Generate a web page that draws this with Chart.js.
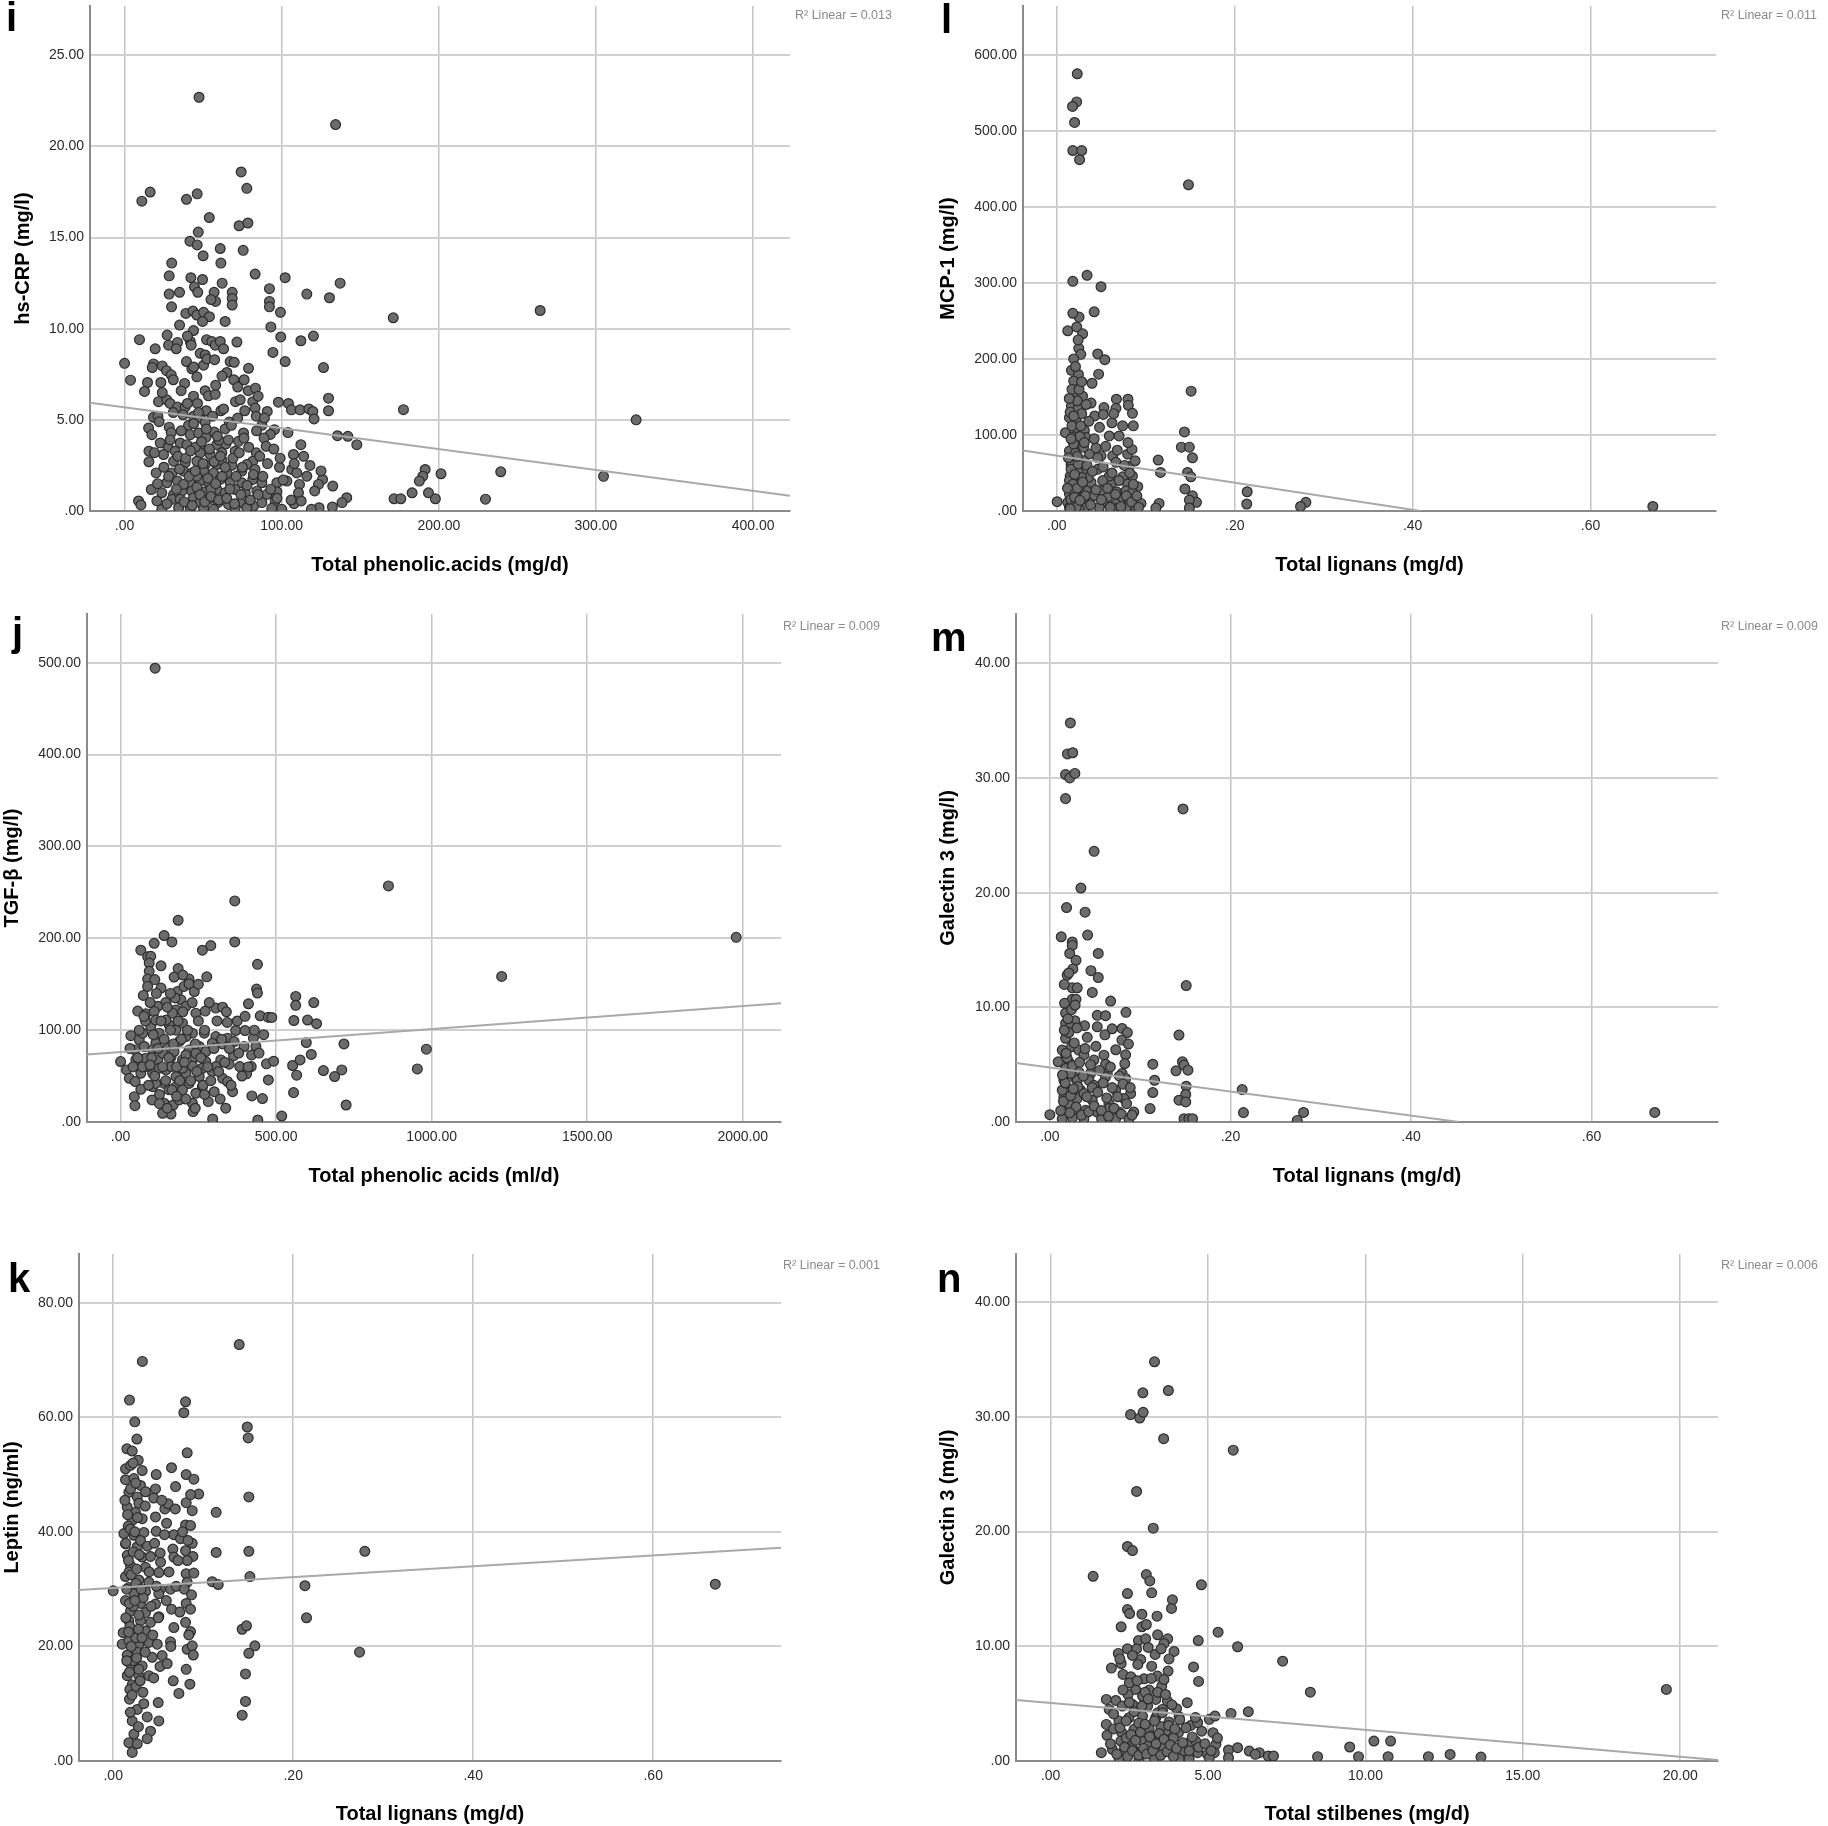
<!DOCTYPE html>
<html>
<head>
<meta charset="utf-8">
<script src="https://cdn.jsdelivr.net/npm/chart.js@4.4.1/dist/chart.umd.min.js"></script>
<style>
  body { margin: 0; background: #fff; }
  #page { position: relative; width: 1828px; height: 1826px; overflow: hidden; background: #fff; }
  #page canvas { position: absolute; }
  .tag { position: absolute; font: bold 40px "Liberation Sans", Arial, sans-serif; line-height: 40px; color: #000; }
  .r2 { position: absolute; font: 12.5px "Liberation Sans", Arial, sans-serif; line-height: 14px; color: #8a8a8a; white-space: nowrap; }
</style>
</head>
<body>
<div id="page">
  <canvas id="ci" width="914" height="600" style="left:0;top:0"></canvas>
  <canvas id="cl" width="914" height="600" style="left:914px;top:0"></canvas>
  <canvas id="cj" width="914" height="620" style="left:0;top:600px"></canvas>
  <canvas id="cm" width="914" height="620" style="left:914px;top:600px"></canvas>
  <canvas id="ck" width="914" height="606" style="left:0;top:1220px"></canvas>
  <canvas id="cn" width="914" height="606" style="left:914px;top:1220px"></canvas>

  <div class="tag" style="left:6px;top:-3px">i</div>
  <div class="tag" style="left:941px;top:-1px">l</div>
  <div class="tag" style="left:12px;top:612px">j</div>
  <div class="tag" style="left:931px;top:617px">m</div>
  <div class="tag" style="left:8px;top:1258px">k</div>
  <div class="tag" style="left:937px;top:1258px">n</div>

  <div class="r2" style="left:795px;top:8px">R² Linear = 0.013</div>
  <div class="r2" style="left:1721px;top:8px">R² Linear = 0.011</div>
  <div class="r2" style="left:783px;top:619px">R² Linear = 0.009</div>
  <div class="r2" style="left:1721px;top:619px">R² Linear = 0.009</div>
  <div class="r2" style="left:783px;top:1258px">R² Linear = 0.001</div>
  <div class="r2" style="left:1721px;top:1258px">R² Linear = 0.006</div>
</div>
<script>
// [total phenolic acids mg/d, hs-CRP mg/l]
const crpPoints = [
  [47.4,22.7],[134.3,21.2],[264.5,11.0],[325.6,5.0],[304.8,1.9],[239.4,2.15],[229.7,0.65],
  [74.2,18.6],[77.8,17.7],[16.3,17.5],[11,17.0],[39.4,17.1],[46.2,17.4],[53.9,16.1],[72.9,15.65],[78.5,15.8],
  [46.9,15.3],[41.6,14.8],[46.2,14.6],[60.9,14.4],[75.5,14.3],[61.3,13.6],[83.1,13.0],[102.2,12.8],[28.4,12.9],
  [42.2,12.8],[49.6,12.7],[62.1,12.5],[92.2,12.2],[116,11.9],[137.2,12.5],[130.4,11.7],[28.4,11.9],[35,12.0],
  [44.5,12.3],[46.6,12.0],[57,12.0],[57.9,11.5],[68.5,12.0],[68.5,11.66],[68.5,11.3],[92.2,11.5],[92.2,11.2],
  [29.9,11.2],[39,10.84],[43.5,10.97],[46,10.75],[50.3,10.9],[54,10.66],[49.6,10.4],[99.2,10.9],[171,10.6],
  [93.1,10.1],[43.9,9.9],[27.1,9.65],[9.5,9.4],[28,9.1],[33.7,9.25],[41.8,9.3],[42.4,9.1],[52.2,9.4],[55.5,9.3],
  [57.7,9.1],[60.9,9.3],[63,8.9],[71.5,9.27],[99.4,9.55],[112.2,9.34],[120.2,9.6],[19.5,8.9],[32.9,8.9],[94.4,8.7],
  [48.1,8.65],[51.3,8.56],[0,8.1],[18.4,8.07],[24,7.96],[39.4,8.2],[42.8,7.8],[50.3,8.0],[52.4,8.34],[57.3,8.3],
  [67.2,8.2],[69.8,8.16],[78.9,7.83],[102.2,8.2],[126.6,7.87],[17.6,7.87],[26.7,7.7],[29.7,7.47],[3.8,7.18],
  [14.6,7.05],[23.1,7.05],[38.2,7.0],[46,7.36],[65.1,7.6],[69.5,7.2],[76.1,7.2],[12.7,6.56],[51.3,6.6],[53.4,6.32],
  [57.7,6.4],[78.7,6.6],[83.3,6.74],[43.9,6.3],[21.6,6.0],[26.9,6.1],[29,5.9],[33.7,5.7],[38.6,5.7],[46.4,5.9],
  [61.3,5.5],[70.6,6.0],[73.6,6.1],[76.5,5.5],[81.6,6.0],[83.1,5.65],[90.8,5.46],[97.9,5.97],[104.3,5.9],
  [106.2,5.55],[111.7,5.55],[117.3,5.6],[119.8,5.46],[120.6,5.05],[129.8,6.19],[129.8,5.5],[177.5,5.56],
  [18.4,5.14],[21.2,5.2],[37.3,5.28],[43.9,5.2],[48.1,5.1],[51.3,4.88],[66.6,4.88],[83.8,5.2],[87.4,4.7],
  [95.4,4.46],[15.3,4.55],[17.4,4.19],[28.4,4.6],[29.7,4.3],[40.7,4.7],[41.8,4.19],[47.1,4.28],[51.9,4.04],
  [57.1,4.33],[64,4.5],[75.7,4.28],[92.7,4.2],[88.8,4.0],[135.5,4.13],[142.1,4.1],[147.8,3.64],[22.7,3.73],
  [35.4,3.73],[39.7,3.64],[48.1,3.64],[58.7,3.64],[64.5,3.68],[72.5,3.82],[27.8,3.5],[90.1,3.55],[112.2,3.64],
  [15.5,3.28],[24.8,3.1],[32.2,3.28],[48.1,3.19],[54.5,3.1],[61.9,3.19],[70.4,3.28],[83.8,3.19],[107.5,3.1],
  [15.5,2.7],[31.2,2.73],[38.6,2.64],[46,2.73],[51.3,2.55],[58.7,2.55],[68.3,2.51],[81.6,2.73],[77.8,2.55],
  [20.1,2.09],[30.1,2.09],[37.5,2.19],[42.9,2.09],[50.3,2.19],[56.6,2.09],[65.1,2.09],[74.6,2.19],[83,2.28],
  [98.6,2.4],[106.4,2.28],[109.6,2.09],[116,1.91],[191.3,2.28],[201.4,2.04],[189.8,1.91],[187.6,1.64],
  [26.9,1.55],[33.7,1.64],[41.8,1.55],[48.1,1.64],[53.6,1.55],[60.9,1.73],[67.2,1.55],[74.6,1.55],[81.6,1.73],
  [87.4,1.55],[96.9,1.55],[103.3,1.64],[111.3,1.46],[126,1.73],[123.4,1.46],[132.5,1.37],[17,1.18],[23.7,1.0],
  [31.2,0.91],[36.5,1.09],[42.8,1.09],[43.9,0.73],[51.3,1.06],[58.7,1.18],[64,1.0],[70.4,1.18],[76.8,1.0],
  [84.2,1.09],[90.5,0.91],[96.9,1.06],[110.7,1.0],[183,1.0],[193.4,1.0],[197.8,0.67],[171.5,0.67],[175.8,0.67],
  [8.9,0.55],[10.4,0.33],[20.6,0.55],[30.1,0.64],[35.4,0.64],[48.1,0.46],[53.4,0.64],[59.4,0.46],[66.2,0.36],
  [73.6,0.46],[82.1,0.27],[87.4,0.46],[95.8,0.55],[107.9,0.4],[112.4,0.55],[141.4,0.73],[138.4,0.46],
  [123.8,0.18],[132.3,0.22],[118.9,0.09],[23.7,0.09],[34.4,0.18],[41.8,0.15],[50.3,0.15],[56.6,0.09],
  [70.4,0.18],[77.8,0.18],[93.7,0.15],[100.1,0.09],[37.5,1.46],[46,1.91],[55,1.2],[62,2.8],[45,3.5],[35,2.3],
  [28,1.9],[60,3.9],[52,5.5],
  [22,4.9],[25,2.4],[27,0.4],[29,3.9],[31,5.4],[33,1.2],[34,3.0],[36,4.4],[38,0.5],[39,2.9],[40,5.9],[41,1.9],
  [42,3.3],[43,0.3],[44,4.8],[45,2.2],[46,1.3],[47,5.4],[48,0.9],[49,3.8],[50,2.6],[51,0.5],[52,4.5],[53,1.8],
  [54,3.4],[55,0.8],[56,5.2],[57,2.7],[58,1.5],[59,4.1],[60,0.6],[61,3.0],[62,1.9],[63,5.6],[64,2.4],[65,0.7],
  [66,3.9],[67,1.2],[68,4.7],[69,2.9],[70,0.4],[71,1.9],[72,5.1],[73,3.2],[74,0.9],[75,2.4],[76,4.0],[78,1.4],
  [79,3.5],[80,0.6],[82,2.0],[84,4.4],[85,0.9],[86,3.0],[88,1.9],[89,5.1],[91,2.6],[93,1.2],[95,3.4],[97,0.7],
  [99,2.9],[101,1.7],[104,4.3],[106,0.6],[108,2.6],[114,3.0],[118,2.5],[121,1.1],[125,2.2],[19,3.2],[21,1.5],
  [24,6.5],[31,7.2],[36,6.6],[44,7.9],[58,6.9],[62,7.4],[72,6.8],[85,6.3],[40,9.6],[64,10.4],[35,10.2],
  [55,11.6],[30,13.6],[50,14.0]
];

// [total lignans mg/d, MCP-1 mg/l]
const mcpPoints = [
  [0.023,575],[0.0223,538],[0.0177,532],[0.020,511],[0.018,474],[0.028,474],[0.0256,462],[0.670,6],
  [0.148,429],[0.034,310],[0.018,302],[0.0497,295],[0.042,262],[0.025,255],[0.0123,237],[0.0224,242],
  [0.029,233],[0.0247,214],[0.027,206],[0.046,206.5],[0.054,199],[0.019,200],[0.0164,185],[0.0243,179.5],
  [0.047,180],[0.019,171],[0.0396,168],[0.02,155.5],[0.029,151],[0.151,157.6],[0.0164,138],[0.024,135],
  [0.0385,142],[0.053,136],[0.067,147],[0.080,147],[0.0665,135],[0.0804,139],[0.085,128.4],[0.0426,125],
  [0.0523,127],[0.062,116],[0.086,112],[0.0097,103],[0.0198,105],[0.031,106],[0.059,98.7],[0.070,98.7],
  [0.1435,104],[0.140,84],[0.149,84],[0.1525,70],[0.0236,83],[0.018,70],[0.0366,75],[0.0497,72.5],
  [0.0628,72.5],[0.0796,74.7],[0.0845,81],[0.0665,64],[0.0815,59],[0.114,67],[0.1166,50.7],[0.016,60.7],
  [0.031,55],[0.046,55],[0.147,50.7],[0.1507,45],[0.074,45],[0.085,46],[0.015,46],[0.0254,40],[0.0385,37.5],
  [0.061,35.4],[0.0796,35.4],[0.091,32],[0.144,29],[0.0198,31],[0.033,26.6],[0.0497,26.6],[0.067,25.3],
  [0.0778,26.6],[0.085,24.5],[0.214,25.3],[0.1525,20],[0.0142,22.3],[0.027,18],[0.042,20],[0.057,18],
  [0.070,15.7],[0.0004,12.2],[0.0123,11.4],[0.0236,13.5],[0.0366,10],[0.0516,11.4],[0.0665,9.2],[0.0815,13.5],
  [0.0946,10],[0.115,10],[0.157,11.4],[0.149,14.4],[0.2135,9.2],[0.28,11.4],[0.274,6],[0.0142,4.8],[0.031,4],
  [0.0478,4.8],[0.0628,4],[0.0778,4],[0.089,4.8],[0.1114,4],[0.149,4],[0.018,2.6],[0.025,2.6],
  [0.0142,122.7],[0.0217,118],[0.018,92],[0.0142,79],[0.027,88],[0.033,96.5],[0.044,83],[0.0142,40],
  [0.024,50.7],[0.02,24.5],[0.035,44],[0.059,46],[0.0516,40],[0.017,63],[0.022,110],[0.028,128],[0.016,15],
  [0.021,8],[0.026,33],[0.030,66],[0.0185,97],[0.023,145],
  [0.015,130],[0.017,112],[0.019,88],[0.021,76],[0.016,55],[0.018,35],[0.020,18],[0.022,5],[0.024,62],
  [0.026,98],[0.028,44],[0.017,160],[0.021,190],[0.025,160],[0.019,125],[0.023,72],[0.027,112],[0.030,84],
  [0.032,20],[0.034,60],[0.036,118],[0.038,8],[0.040,52],[0.042,95],[0.044,28],[0.046,70],[0.048,110],
  [0.050,15],[0.052,58],[0.055,85],[0.057,30],[0.060,5],[0.062,50],[0.064,128],[0.066,22],[0.068,80],
  [0.070,40],[0.072,6],[0.074,112],[0.076,60],[0.078,20],[0.080,90],[0.082,50],[0.084,12],[0.086,35],
  [0.088,66],[0.090,20],[0.092,5],[0.015,3],[0.020,48],[0.023,30],[0.026,14],[0.029,38],[0.031,90],
  [0.033,140],[0.028,170],[0.024,225],[0.018,260],[0.014,148],[0.016,95],[0.013,70],[0.012,30]
];

// [total phenolic acids ml/d, TGF-beta mg/l]
const tgfPoints = [
  [111,494],[1979,201],[861,257],[367,240.7],[185,219.6],[1225,158.5],[108,194.5],[140,203],[165,196],
  [65,187],[87,180],[97,180.4],[92,173],[263,187],[290,192],[367,196],[440,171.6],[185,167],[92,164],
  [87,155.6],[172,157.8],[220,155.6],[277,158],[87,147.6],[130,145.8],[73,137.8],[183,142],[204,147.6],
  [220,150.5],[237,142],[437,144.7],[440,140.4],[563,136.7],[563,127],[621,130],[194,133],[145,130],[119,126],
  [55,120.7],[81,117.8],[108,120.4],[178,122],[210,126],[242,118.5],[272,120.7],[306,124],[328,125],
  [411,128.7],[449,115.6],[475,114],[486,113.8],[343,108.4],[557,110.5],[601,111],[630,107],[33,94],[60,89.5],
  [97,104],[124,96.7],[156,105.8],[199,107.6],[231,96.7],[269,96.7],[306,93],[344,91.3],[370,99.6],[400,99.6],
  [427,91.3],[435,82.2],[597,86.5],[718,85],[983,79.3],[46,78.5],[76,82.2],[113,85.8],[151,80.4],[188,87.6],
  [220,78.5],[253,82.2],[295,85.8],[328,85],[365,87.6],[397,82.2],[421,73],[0,65.8],[49,67.6],[81,69.5],
  [119,67.6],[162,70.5],[199,67.6],[237,70.5],[274,65.8],[322,67.6],[363,72],[349,63],[383,60.4],[420,60.4],
  [469,63.3],[492,66.2],[553,61.5],[577,67.6],[613,73.5],[652,56],[711,56.7],[688,49.5],[954,57.8],[19,56.7],
  [28,47.6],[65,53],[103,53],[146,56.7],[178,49.5],[210,53],[253,49.5],[295,55],[328,47.6],[405,52.4],
  [566,51],[475,45.8],[47,44],[65,35.6],[103,38.5],[140,42],[178,38.5],[220,42],[263,38.5],[301,33],[344,44],
  [360,33],[422,28.4],[456,25.5],[556,32],[44,27.6],[46,17.8],[101,24],[140,20.4],[162,8.7],[169,18.5],
  [233,11.3],[282,22.2],[338,15],[296,3.3],[441,2.2],[518,6.5],[725,18.5],[135,9.5],[188,24],[231,20.4],
  [103,78.5],[135,75],[172,76.7],[210,73],[242,75],[274,76.7],[87,60.4],[124,58.5],[162,60.4],[199,58.5],
  [231,61],[263,58.5],[306,60.4],[113,42],[156,35],[199,35],[242,31.3],[71,96.7],[146,111],[178,100],
  [210,93],[113,111],[167,118.5],
  [60,100],[70,60],[80,110],[90,40],[95,130],[100,70],[105,95],[110,50],[115,140],[120,80],[125,30],[130,110],
  [135,60],[140,90],[145,45],[150,125],[155,70],[160,100],[165,35],[170,85],[175,135],[180,60],[185,110],
  [190,45],[195,90],[200,120],[205,65],[215,100],[225,45],[230,130],[240,85],[245,55],[250,110],[258,70],
  [265,40],[270,100],[280,60],[285,130],[290,45],[300,80],[310,110],[315,55],[325,90],[335,65],[340,120],
  [350,80],[355,40],[375,110],[380,75],[390,50],[400,115],[410,60],[430,100],[445,75],[460,95],[110,155],
  [130,170],[160,140],[200,160],[250,150],[75,115],[95,62],[125,20],[150,15],[180,28],[210,25],[240,15],
  [270,30],[320,25],[55,70],[40,60],[30,80]
];

// [total lignans mg/d, galectin 3 mg/l]
const galLignanPoints = [
  [0.0227,34.8],[0.0195,32.1],[0.0253,32.2],[0.670,0.83],[0.281,0.83],[0.274,0.14],
  [0.0174,30.3],[0.022,30.0],[0.0277,30.4],[0.0174,28.2],[0.1475,27.3],[0.049,23.6],[0.0344,20.4],
  [0.0185,18.7],[0.039,18.3],[0.0126,16.15],[0.0418,16.3],[0.0248,15.7],[0.0248,15.4],[0.022,14.7],
  [0.0536,14.7],[0.029,14.1],[0.0192,12.8],[0.0255,13.35],[0.0455,13.2],[0.0536,12.6],[0.0248,11.7],
  [0.0303,11.7],[0.047,11.3],[0.151,11.9],[0.0248,10.7],[0.029,10.7],[0.0163,10.35],[0.0673,10.55],
  [0.0174,9.5],[0.0525,9.3],[0.0617,9.27],[0.0843,9.56],[0.0174,8.6],[0.0277,8.83],[0.0384,8.4],[0.0525,8.3],
  [0.069,8.13],[0.080,8.16],[0.0858,7.8],[0.0414,7.38],[0.0798,7.14],[0.143,7.58],[0.0174,7.3],[0.024,6.56],
  [0.032,6.27],[0.0174,5.83],[0.0377,5.83],[0.0599,5.83],[0.0839,5.86],[0.0092,5.25],[0.021,5.25],
  [0.0488,5.4],[0.0617,5.04],[0.114,5.04],[0.1468,5.25],[0.1486,4.96],[0.1397,4.46],[0.153,4.52],
  [0.0174,4.66],[0.032,4.37],[0.045,4.23],[0.0636,4.23],[0.080,4.23],[0.0155,3.64],[0.0285,3.8],
  [0.0433,3.64],[0.0617,3.94],[0.0839,3.8],[0.116,3.64],[0.151,3.12],[0.213,2.83],[0.0174,2.9],[0.034,2.77],
  [0.0488,3.2],[0.0728,2.77],[0.0895,2.48],[0.114,2.57],[0.1505,2.4],[0.0155,2.19],[0.030,2.04],[0.047,1.9],
  [0.0654,1.6],[0.082,2.04],[0.143,1.9],[0.1505,1.75],[0.111,1.17],[0.0,0.64],[0.0174,1.17],[0.0266,0.87],
  [0.0396,1.02],[0.0525,0.87],[0.0654,1.17],[0.0765,0.87],[0.093,0.87],[0.2144,0.82],[0.0137,0.29],
  [0.0248,0.38],[0.0377,0.29],[0.0573,0.29],[0.0728,0.29],[0.0876,0.29],[0.1486,0.29],[0.154,0.29],
  [0.158,0.29],[0.0137,6.27],[0.0229,8.3],[0.0137,2.77],[0.021,1.6],[0.0303,3.64],[0.0377,2.48],[0.0229,4.23],
  [0.015,1.8],[0.017,3.4],[0.019,5.6],[0.021,7.8],[0.023,2.3],[0.025,4.9],[0.027,6.9],[0.029,1.3],[0.031,3.1],
  [0.033,5.2],[0.035,0.6],[0.037,4.0],[0.039,6.4],[0.041,2.2],[0.043,0.9],[0.045,5.0],[0.047,3.0],[0.049,1.4],
  [0.051,6.6],[0.053,2.6],[0.055,4.5],[0.057,1.0],[0.059,3.4],[0.061,7.6],[0.063,2.1],[0.065,0.5],[0.067,4.8],
  [0.069,3.0],[0.071,1.2],[0.073,6.3],[0.075,2.2],[0.077,4.0],[0.079,0.7],[0.081,3.3],[0.083,5.1],[0.085,1.6],
  [0.087,6.8],[0.089,3.0],[0.091,0.6],[0.016,8.0],[0.020,9.0],[0.024,9.8],[0.018,6.0],[0.022,0.8],[0.026,2.9],
  [0.028,10.2],[0.030,8.2],[0.014,4.1],[0.012,1.0],[0.016,12.0],[0.021,13.0]
];

// [total lignans mg/d, leptin ng/ml]
const leptinPoints = [
  [0.140,72.7],[0.0324,69.75],[0.669,30.86],
  [0.0181,63.0],[0.0804,62.7],[0.0785,60.8],[0.024,59.2],[0.149,58.3],[0.150,56.4],[0.0263,56.2],
  [0.0152,54.5],[0.0211,54.1],[0.0822,53.8],[0.0278,52.5],[0.0137,51.0],[0.0193,51.6],[0.0322,50.7],
  [0.0478,50.0],[0.0648,51.2],[0.0811,50.0],[0.0896,49.2],[0.0137,49.1],[0.023,49.3],[0.0304,48.1],
  [0.0693,47.9],[0.047,47.5],[0.095,46.6],[0.1507,46.1],[0.0174,46.9],[0.0267,46.1],[0.045,45.9],
  [0.0574,44.0],[0.0611,44.9],[0.0811,45.1],[0.0878,43.7],[0.1144,43.4],[0.0156,44.3],[0.0248,43.4],
  [0.0211,42.0],[0.0322,42.3],[0.047,42.6],[0.0593,41.5],[0.0804,41.2],[0.0859,41.1],[0.0119,39.7],
  [0.023,39.4],[0.034,39.9],[0.0478,40.1],[0.0674,39.5],[0.0748,38.8],[0.0878,38.0],[0.0137,37.9],
  [0.0267,37.4],[0.0522,36.3],[0.0663,37.0],[0.0804,36.7],[0.0885,35.7],[0.1144,36.4],[0.1507,36.6],
  [0.2796,36.6],[0.0156,35.9],[0.0322,35.6],[0.0415,35.7],[0.0526,34.7],[0.0674,35.6],[0.0822,35.0],
  [0.0193,34.1],[0.0359,33.8],[0.0507,32.9],[0.0811,32.7],[0.0896,32.8],[0.1519,32.2],[0.0137,32.2],
  [0.0285,31.6],[0.0396,31.2],[0.0526,30.0],[0.0637,30.0],[0.07,30.5],[0.0822,31.2],[0.11,31.3],
  [0.1167,30.8],[0.0,29.7],[0.0174,30.3],[0.023,29.2],[0.0359,29.6],[0.0507,29.2],[0.213,30.6],[0.2148,25.0],
  [0.0137,28.0],[0.0304,27.5],[0.047,27.4],[0.0811,27.5],[0.0859,26.5],[0.0648,26.5],[0.0193,26.2],
  [0.0359,25.9],[0.0507,25.2],[0.0174,24.5],[0.0304,24.5],[0.0415,24.2],[0.0674,23.3],[0.0804,24.2],
  [0.0859,22.6],[0.1433,23.0],[0.1481,23.6],[0.0111,22.4],[0.023,22.2],[0.0359,22.7],[0.01,20.4],
  [0.0174,21.0],[0.0285,20.4],[0.0396,20.7],[0.0489,20.4],[0.0637,20.8],[0.0822,19.5],[0.0878,20.1],
  [0.1574,20.1],[0.1507,18.8],[0.2737,19.0],[0.0156,18.5],[0.0267,19.0],[0.0433,18.1],[0.0544,18.4],
  [0.0193,16.9],[0.0322,16.6],[0.0811,16.0],[0.147,15.2],[0.0156,14.9],[0.0285,14.9],[0.0396,14.9],
  [0.0667,14.0],[0.0852,13.4],[0.0211,13.3],[0.073,11.8],[0.0181,10.8],[0.05,10.2],[0.147,10.4],
  [0.0267,9.0],[0.1433,8.0],[0.0378,7.7],[0.0211,7.0],[0.0507,7.0],[0.0415,5.2],[0.023,4.7],[0.0378,3.9],
  [0.0174,3.2],[0.0267,3.0],[0.0211,1.5],[0.0193,47.5],[0.0285,45.0],[0.0167,41.0],[0.0304,38.5],
  [0.0222,36.5],[0.0178,33.0],[0.0252,31.0],[0.0222,27.0],[0.0285,25.5],[0.0185,23.5],[0.0252,21.5],
  [0.0222,17.5],[0.0285,16.0],[0.0185,12.5],[0.0252,13.0],[0.0356,44.5],[0.0333,28.5],[0.0356,19.0],
  [0.013,45.5],[0.016,43.0],[0.019,40.5],[0.014,38.0],[0.017,35.0],[0.020,32.5],[0.015,30.0],[0.018,27.5],
  [0.014,25.0],[0.017,22.5],[0.020,20.0],[0.015,17.5],[0.018,15.5],[0.022,52.0],[0.025,48.5],[0.027,42.5],
  [0.024,40.0],[0.029,36.0],[0.026,33.5],[0.031,30.0],[0.024,28.0],[0.028,23.0],[0.032,21.5],[0.026,18.0],
  [0.030,14.0],[0.033,12.0],[0.036,47.0],[0.038,37.5],[0.040,33.0],[0.042,27.0],[0.044,22.0],[0.046,38.0],
  [0.048,30.5],[0.050,25.0],[0.052,16.5],[0.054,45.5],[0.057,39.5],[0.059,28.0],[0.062,33.0],[0.064,20.0],
  [0.069,44.0],[0.072,35.0],[0.074,26.0],[0.077,40.0],[0.079,30.0],[0.083,38.5],[0.084,22.0],[0.086,46.5],
  [0.087,29.0],[0.089,18.5],[0.021,11.5],[0.019,8.5],[0.028,6.0],[0.034,10.0],[0.045,14.5],[0.060,17.0]
];

// [total stilbenes mg/d, galectin 3 mg/l]
const galStilbenePoints = [
  [3.30,34.8],[2.93,32.1],[3.74,32.3],[2.54,30.2],[2.83,29.9],[2.94,30.4],[3.59,28.1],[19.56,6.24],
  [12.69,0.57],[13.67,0.34],[5.8,27.1],[2.73,23.5],[3.26,20.3],[2.44,18.7],[2.6,18.35],[1.35,16.1],
  [3.04,16.25],[3.15,15.7],[4.79,15.36],[2.44,14.6],[3.21,14.66],[3.87,14.05],[3.84,13.3],[2.44,13.2],
  [2.51,12.86],[3.38,12.63],[2.24,11.7],[2.9,11.7],[3.04,11.9],[5.32,11.23],[3.72,10.65],[2.79,10.5],
  [3.02,10.65],[4.69,10.5],[3.6,10.25],[2.44,9.78],[2.73,9.78],[2.15,9.38],[3.32,9.29],[3.92,9.55],
  [5.94,9.96],[3.51,9.78],[3.76,8.9],[2.86,8.85],[7.37,8.7],[1.93,8.1],[2.24,8.5],[2.77,8.42],[3.21,8.27],
  [3.73,7.84],[3.39,7.4],[4.54,8.2],[4.7,6.94],[2.3,7.55],[2.55,7.34],[2.97,7.17],[3.53,6.53],[2.7,6.24],
  [3.13,6.18],[8.25,6.0],[2.46,5.8],[1.77,5.37],[2.07,5.28],[2.92,5.66],[3.34,5.37],[3.71,5.22],[4.34,5.08],
  [1.86,4.5],[2.28,4.79],[2.6,4.93],[3.08,4.79],[3.55,4.5],[4.0,4.56],[5.73,4.15],[6.28,4.3],[1.77,3.19],
  [2.17,3.48],[2.49,3.77],[2.92,3.92],[3.34,3.77],[3.76,3.4],[4.08,3.86],[5.04,3.63],[5.22,3.92],[1.79,2.24],
  [2.26,2.47],[2.65,2.76],[3.13,2.82],[3.66,2.61],[4.06,2.47],[4.45,3.1],[4.67,3.34],[5.16,2.47],[10.27,1.74],
  [10.8,1.74],[9.5,1.22],[5.25,1.45],[2.23,1.74],[2.55,1.54],[2.92,1.74],[3.34,1.6],[3.76,1.74],[4.4,1.6],
  [4.61,1.74],[1.61,0.73],[1.96,1.02],[2.28,0.73],[2.65,0.87],[3.02,0.67],[3.45,0.87],[3.87,0.73],
  [4.24,0.87],[4.67,0.73],[4.98,0.58],[5.2,0.73],[5.65,0.96],[5.94,1.16],[6.31,0.87],[6.63,0.73],[5.65,0.29],
  [6.5,0.58],[6.91,0.44],[7.08,0.44],[8.48,0.38],[9.78,0.38],[10.72,0.38],[12.0,0.38],[2.17,0.29],[2.81,0.2],
  [3.29,0.29],[4.08,0.2],[4.4,0.2],[5.04,0.29],[2.5,6.8],[3.0,6.0],[3.4,4.2],[2.8,3.3],[3.2,2.2],[2.4,2.0],
  [3.6,1.2],[2.0,2.8],[3.9,2.0],[2.6,1.1],[3.1,1.3],[3.5,3.0],
  [1.9,1.5],[2.0,4.1],[2.1,0.6],[2.2,2.9],[2.3,6.2],[2.35,1.2],[2.4,3.5],[2.45,0.4],[2.5,5.1],[2.55,2.3],
  [2.6,0.9],[2.65,4.3],[2.7,1.8],[2.75,7.0],[2.8,0.5],[2.85,2.5],[2.9,4.8],[2.95,1.1],[3.0,3.2],[3.05,0.6],
  [3.1,5.4],[3.15,2.1],[3.2,7.2],[3.25,0.9],[3.3,3.5],[3.35,1.5],[3.4,6.0],[3.45,2.4],[3.5,0.5],[3.55,4.2],
  [3.6,1.9],[3.65,5.8],[3.7,0.8],[3.75,3.1],[3.8,1.4],[3.85,4.9],[3.9,0.4],[3.95,2.8],[4.0,1.1],[4.1,3.6],
  [4.2,1.6],[4.3,2.9],[4.4,0.9],[4.5,2.1],[4.6,3.8],[4.7,1.2],[4.8,2.6],[4.9,1.5],[5.1,0.9],[5.3,2.0],
  [2.2,8.9],[2.6,9.2],[3.1,9.9],[3.4,11.0],[2.9,12.8],[3.6,7.1]
];

// linear fit lines [intercept, slope]
const fitCrp = [5.69, -0.01145];
const fitMcp = [72.8, -178];
const fitTgf = [76.1, 0.0251];
const fitGalLignan = [4.75, -10.48];
const fitLeptin = [30.2, 9.45];
const fitGalStilbene = [5.05, -0.234];

const TICK_FONT = { family: '"Liberation Sans", Arial, sans-serif', size: 14 };
const TITLE_FONT = { family: '"Liberation Sans", Arial, sans-serif', size: 20, weight: 'bold' };

function fmt(v) {
  const s = Number(v).toFixed(2);
  return s.indexOf('0.') === 0 ? s.slice(1) : s;
}

// ticks on whole multiples of the step, inside the axis range
function stepTicks(min, max, step) {
  const out = [];
  for (let k = Math.ceil(min / step - 1e-9); k * step <= max + 1e-9; k++) {
    out.push({ value: +(k * step).toFixed(6) });
  }
  return out;
}

function fitLine(fit, xMin, xMax) {
  const a = fit[0], b = fit[1];
  let xEnd = xMax;
  if (b < 0 && -a / b < xMax) xEnd = -a / b;
  return [{ x: xMin, y: a + b * xMin }, { x: xEnd, y: a + b * xEnd }];
}

function panel(id, cfg) {
  const canvas = document.getElementById(id);
  const W = canvas.width, H = canvas.height;
  const L = cfg.area[0], T = cfg.area[1], R = cfg.area[2], B = cfg.area[3];
  new Chart(canvas, {
    type: 'scatter',
    data: {
      datasets: [
        {
          data: fitLine(cfg.fit, cfg.xMin, cfg.xMax),
          showLine: true, borderColor: '#a9a9a9', borderWidth: 2, pointRadius: 0
        },
        {
          data: cfg.points.map(p => ({ x: p[0], y: p[1] })),
          pointRadius: 4.9, borderWidth: 1.2,
          backgroundColor: '#6b6b6b', borderColor: '#2d2d2d'
        }
      ]
    },
    options: {
      responsive: false,
      animation: false,
      events: [],
      layout: { padding: { left: 0, top: T, right: W - R, bottom: 0 } },
      plugins: { legend: { display: false }, tooltip: { enabled: false } },
      scales: {
        x: {
          type: 'linear', min: cfg.xMin, max: cfg.xMax,
          border: { color: '#8a8a8a', width: 2 },
          grid: { color: '#c4c4c4', lineWidth: 1.5, drawTicks: false },
          ticks: { autoSkip: false, maxRotation: 0, padding: 7, font: TICK_FONT, color: '#2a2a2a', callback: fmt },
          afterBuildTicks: s => { s.ticks = stepTicks(cfg.xMin, cfg.xMax, cfg.xStep); },
          title: { display: true, text: cfg.xTitle, font: TITLE_FONT, color: '#000', padding: { top: 0, bottom: cfg.xTitlePad } },
          afterFit: s => { s.height = H - B; s.paddingLeft = 0; s.paddingRight = 0; }
        },
        y: {
          type: 'linear', min: 0, max: cfg.yMax,
          border: { color: '#8a8a8a', width: 2 },
          grid: { color: '#d0d0d0', lineWidth: 2, drawTicks: false },
          ticks: { autoSkip: false, padding: 6, font: TICK_FONT, color: '#2a2a2a', callback: fmt },
          afterBuildTicks: s => { s.ticks = stepTicks(0, cfg.yMax, cfg.yStep); },
          title: { display: true, text: cfg.yTitle, font: TITLE_FONT, color: '#000', padding: { top: cfg.yTitlePad, bottom: 0 } },
          afterFit: s => { s.width = L; s.paddingTop = 0; s.paddingBottom = 0; }
        }
      }
    }
  });
}

panel('ci', {
  points: crpPoints, fit: fitCrp, xMin: -22, xMax: 423.5, xStep: 100, yMax: 27.7, yStep: 5,
  xTitle: 'Total phenolic.acids (mg/d)', yTitle: 'hs-CRP (mg/l)',
  area: [90, 3, 790, 511], xTitlePad: 23, yTitlePad: 11
});
panel('cl', {
  points: mcpPoints, fit: fitMcp, xMin: -0.038, xMax: 0.741, xStep: 0.2, yMax: 664, yStep: 100,
  xTitle: 'Total lignans (mg/d)', yTitle: 'MCP-1 (mg/l)',
  area: [109, 3, 802, 511], xTitlePad: 23, yTitlePad: 22
});
panel('cj', {
  points: tgfPoints, fit: fitTgf, xMin: -108, xMax: 2123, xStep: 500, yMax: 553, yStep: 100,
  xTitle: 'Total phenolic acids (ml/d)', yTitle: 'TGF-β (mg/l)',
  area: [87, 14, 781, 522], xTitlePad: 32, yTitlePad: 0
});
panel('cm', {
  points: galLignanPoints, fit: fitGalLignan, xMin: -0.0375, xMax: 0.740, xStep: 0.2, yMax: 44.3, yStep: 10,
  xTitle: 'Total lignans (mg/d)', yTitle: 'Galectin 3 (mg/l)',
  area: [102, 14, 804, 522], xTitlePad: 32, yTitlePad: 22
});
panel('ck', {
  points: leptinPoints, fit: fitLeptin, xMin: -0.038, xMax: 0.742, xStep: 0.2, yMax: 88.5, yStep: 20,
  xTitle: 'Total lignans (mg/d)', yTitle: 'Leptin (ng/ml)',
  area: [79, 34, 781, 541], xTitlePad: 0, yTitlePad: 0
});
panel('cn', {
  points: galStilbenePoints, fit: fitGalStilbene, xMin: -1.1, xMax: 21.2, xStep: 5, yMax: 44.2, yStep: 10,
  xTitle: 'Total stilbenes (mg/d)', yTitle: 'Galectin 3 (mg/l)',
  area: [102, 34, 804, 541], xTitlePad: 0, yTitlePad: 22
});
</script>
</body>
</html>
